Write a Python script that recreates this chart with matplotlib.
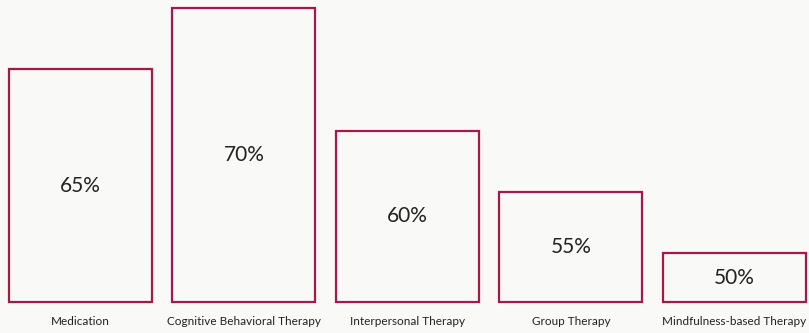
import matplotlib.pyplot as plt

plt.rcParams['font.family'] = ['Lato', 'DejaVu Sans']

therapies = ['Medication', 'Cognitive Behavioral Therapy', 'Interpersonal Therapy',
             'Group Therapy', 'Mindfulness-based Therapy']
success_rate = [65, 70, 60, 55, 50]
base = 46

bg = '#f9f9f7'
edge = '#a8174a'

fig = plt.figure(figsize=(8.09, 3.33), dpi=100, facecolor=bg)
ax = fig.add_axes([0, 31 / 333, 1, 302 / 333])
ax.set_facecolor(bg)

x = range(len(therapies))
bars = ax.bar(x, [v - base for v in success_rate], bottom=base, width=0.875,
              facecolor=bg, edgecolor=edge, linewidth=1.6, clip_on=False)

for xi, v in zip(x, success_rate):
    ax.text(xi, (base + v) / 2, f'{v}%', ha='center', va='center',
            fontsize=15, color='#222222')

ax.set_xlim(-0.492, 4.456)
ax.set_ylim(base, base + 302 / 12.25)
ax.set_xticks(list(x))
ax.set_xticklabels(therapies, fontsize=8.5, color='#222222')
ax.tick_params(axis='x', length=0, pad=10)
ax.set_yticks([])
for s in ax.spines.values():
    s.set_visible(False)

fig.savefig('out.png', dpi=100, facecolor=bg)
